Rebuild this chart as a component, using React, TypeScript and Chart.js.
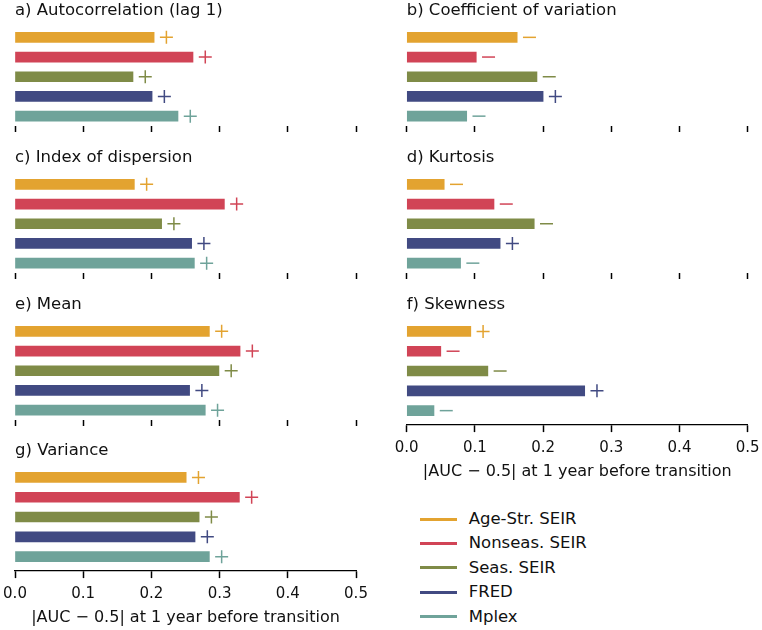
import React, { useEffect, useRef } from 'react';
import { Chart, registerables } from 'chart.js';

Chart.register(...registerables);
Chart.defaults.font.family = "'DejaVu Sans', sans-serif";
Chart.defaults.color = '#000';

const models = ['Age-Str. SEIR', 'Nonseas. SEIR', 'Seas. SEIR', 'FRED', 'Mplex'];
const modelColors = ['#e3a330', '#d14456', '#7f8b47', '#414a82', '#6fa39a'];

const xTicks = [0, 0.1, 0.2, 0.3, 0.4, 0.5];
const xTickLabels = ['0.0', '0.1', '0.2', '0.3', '0.4', '0.5'];
const xAxisTitle = '|AUC \u2212 0.5| at 1 year before transition';

const autocorrValues = [0.204, 0.261, 0.173, 0.201, 0.239];
const autocorrSigns = ['+', '+', '+', '+', '+'];
const cvValues = [0.162, 0.102, 0.191, 0.2, 0.088];
const cvSigns = ['-', '-', '-', '+', '-'];
const dispersionValues = [0.175, 0.307, 0.215, 0.259, 0.263];
const dispersionSigns = ['+', '+', '+', '+', '+'];
const kurtosisValues = [0.055, 0.128, 0.187, 0.137, 0.079];
const kurtosisSigns = ['-', '-', '-', '+', '-'];
const meanValues = [0.285, 0.33, 0.299, 0.256, 0.279];
const meanSigns = ['+', '+', '+', '+', '+'];
const skewnessValues = [0.094, 0.05, 0.119, 0.261, 0.04];
const skewnessSigns = ['+', '-', '-', '+', '-'];
const varianceValues = [0.251, 0.329, 0.27, 0.264, 0.285];
const varianceSigns = ['+', '+', '+', '+', '+'];

type PanelSpec = {
  title: string;
  values: number[];
  signs: string[];
  col: number;
  areaTop: number;
  bottom: boolean;
};

const panels: PanelSpec[] = [
  { title: 'a) Autocorrelation (lag 1)', values: autocorrValues, signs: autocorrSigns, col: 0, areaTop: 27.5, bottom: false },
  { title: 'b) Coefficient of variation', values: cvValues, signs: cvSigns, col: 1, areaTop: 27.5, bottom: false },
  { title: 'c) Index of dispersion', values: dispersionValues, signs: dispersionSigns, col: 0, areaTop: 174.5, bottom: false },
  { title: 'd) Kurtosis', values: kurtosisValues, signs: kurtosisSigns, col: 1, areaTop: 174.5, bottom: false },
  { title: 'e) Mean', values: meanValues, signs: meanSigns, col: 0, areaTop: 321.9, bottom: false },
  { title: 'f) Skewness', values: skewnessValues, signs: skewnessSigns, col: 1, areaTop: 321.9, bottom: true },
  { title: 'g) Variance', values: varianceValues, signs: varianceSigns, col: 0, areaTop: 467.5, bottom: true },
];

const MARKER_OFFSET = 0.018;
const TITLE_BLOCK = 27.5;

function Panel({ spec }: { spec: PanelSpec }) {
  const ref = useRef<HTMLCanvasElement | null>(null);
  const canvasLeft = spec.col === 0 ? -20 : 381;
  const canvasWidth = 401;
  const padLeft = spec.col === 0 ? 35 : 25.7;
  const padRight = spec.col === 0 ? 25 : 34.3;
  const canvasTop = spec.areaTop - TITLE_BLOCK;
  const canvasHeight = spec.bottom ? 190 : 134;

  useEffect(() => {
    if (!ref.current) return;
    const barData = spec.values.map((v, i) => ({ x: v, y: i }));
    const markerData = spec.values.map((v, i) => ({ x: v + MARKER_OFFSET, y: i }));
    const chart = new Chart(ref.current, {
      type: 'bar',
      data: {
        datasets: [
          {
            type: 'bar',
            indexAxis: 'y',
            data: barData as any,
            backgroundColor: modelColors,
            borderWidth: 0,
            barThickness: 10,
          } as any,
          {
            type: 'scatter',
            data: markerData as any,
            pointStyle: spec.signs.map((s) => (s === '+' ? 'cross' : 'line')),
            pointRadius: 6.5,
            pointHoverRadius: 6.5,
            pointBorderWidth: 1.5,
            pointBorderColor: modelColors,
            pointBackgroundColor: modelColors,
            borderColor: modelColors,
            showLine: false,
            clip: false,
          } as any,
        ],
      },
      options: {
        animation: false,
        responsive: false,
        maintainAspectRatio: false,
        events: [],
        layout: {
          padding: { left: padLeft, right: padRight, top: 0, bottom: spec.bottom ? 5.3 : 2 },
        },
        plugins: {
          legend: { display: false },
          tooltip: { enabled: false },
          title: {
            display: true,
            text: spec.title,
            align: 'start',
            fullSize: false,
            color: '#111',
            font: { size: 16.5, weight: 'normal' as any },
            padding: { top: 0.7, bottom: 7 },
          },
        },
        scales: {
          x: {
            type: 'linear',
            min: 0,
            max: 0.5,
            offset: false,
            afterBuildTicks: (axis: any) => {
              axis.ticks = xTicks.map((v) => ({ value: v }));
            },
            ticks: {
              display: spec.bottom,
              font: { size: 15 },
              color: '#111',
              padding: 7.5,
              maxRotation: 0,
              autoSkip: false,
              callback: (val: any) => {
                const idx = xTicks.findIndex((t) => Math.abs(t - Number(val)) < 1e-9);
                return idx >= 0 ? xTickLabels[idx] : '';
              },
            },
            grid: {
              offset: false,
              drawOnChartArea: false,
              drawTicks: true,
              tickLength: spec.bottom ? 7 : 6,
              tickWidth: 1.5,
              tickColor: '#000',
            },
            border: { display: spec.bottom, color: '#000', width: 1.3 },
            title: {
              display: spec.bottom,
              text: xAxisTitle,
              color: '#111',
              font: { size: 16, lineHeight: 0.85 },
              padding: { top: 0, bottom: 0 },
            },
          },
          y: {
            type: 'linear',
            display: false,
            offset: false,
            grid: { offset: false },
            reverse: true,
            min: -0.5,
            max: spec.bottom ? 4.73 : 4.5,
          },
        },
      } as any,
    });
    return () => chart.destroy();
  }, [spec]);

  return (
    <canvas
      ref={ref}
      width={canvasWidth}
      height={canvasHeight}
      style={{ position: 'absolute', left: canvasLeft, top: canvasTop, width: canvasWidth, height: canvasHeight }}
    />
  );
}

function Legend() {
  const firstY = 519;
  const pitch = 24.4;
  return (
    <>
      {models.map((m, i) => {
        const cy = firstY + i * pitch;
        return (
          <React.Fragment key={m}>
            <div
              style={{
                position: 'absolute',
                left: 420,
                top: cy - 1.5,
                width: 37,
                height: 3,
                background: modelColors[i],
              }}
            />
            <div
              style={{
                position: 'absolute',
                left: 468.7,
                top: cy - 12,
                height: 24,
                lineHeight: '24px',
                fontSize: 16.5,
                fontFamily: "'DejaVu Sans', sans-serif",
                color: '#111',
                whiteSpace: 'nowrap',
              }}
            >
              {m}
            </div>
          </React.Fragment>
        );
      })}
    </>
  );
}

export default function App() {
  return (
    <div
      style={{
        position: 'fixed',
        left: 0,
        top: 0,
        width: 762,
        height: 630,
        background: '#fff',
        overflow: 'hidden',
      }}
    >
      {panels.map((p) => (
        <Panel key={p.title} spec={p} />
      ))}
      <Legend />
    </div>
  );
}
